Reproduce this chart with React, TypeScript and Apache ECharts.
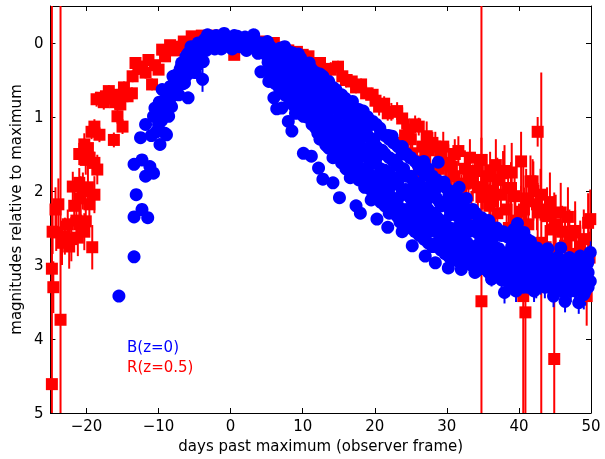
import React, { useEffect, useRef } from "react";
import * as echarts from "echarts";

// [days past maximum, magnitude relative to maximum, error]
const redPoints: number[][] = [
  [-24.8, 4.61, 5.2], [-23.6, 3.74, 4.5], [-24.6, 3.3, 0.35], [-24.8, 3.05, 0.3], [-24.7, 2.55, 0.3],
  [-24.2, 2.56, 0.25], [-24.3, 2.25, 0.3], [-23.9, 2.18, 0.35], [-23.4, 2.7, 0.3], [-23.0, 2.61, 0.25],
  [-22.6, 2.45, 0.2], [-22.4, 2.75, 0.3], [-22.1, 2.65, 0.3], [-21.9, 1.94, 0.2], [-21.7, 2.2, 0.25],
  [-21.4, 2.4, 0.3], [-21.2, 2.63, 0.25], [-21.0, 2.45, 0.2], [-21.0, 1.89, 0.2], [-20.8, 2.1, 0.3],
  [-20.5, 2.0, 0.25], [-20.3, 2.55, 0.25], [-20.1, 2.41, 0.2], [-19.8, 1.95, 0.3], [-19.6, 2.18, 0.3],
  [-19.2, 2.76, 0.3], [-18.9, 2.05, 0.25], [-21.0, 1.5, 0.15], [-20.3, 1.37, 0.15], [-20.1, 1.58, 0.2],
  [-19.6, 1.55, 0.15], [-19.8, 1.42, 0.1], [-18.9, 1.62, 0.15], [-18.5, 1.71, 0.2], [-18.9, 1.13, 0.1],
  [-18.2, 1.24, 0.1], [-19.3, 1.2, 0.1], [-18.6, 0.76, 0.1], [-18.0, 0.74, 0.08], [-17.6, 0.8, 0.1],
  [-17.3, 0.72, 0.08], [-16.9, 0.65, 0.08], [-16.5, 0.75, 0.1], [-16.0, 0.8, 0.1], [-15.7, 0.7, 0.08],
  [-15.3, 0.83, 0.08], [-15.7, 0.99, 0.1], [-15.0, 1.13, 0.1], [-16.2, 1.31, 0.1], [-14.8, 0.6, 0.08],
  [-14.3, 0.72, 0.08], [-13.7, 0.68, 0.08], [-13.6, 0.45, 0.08], [-13.2, 0.27, 0.08], [-12.8, 0.35, 0.08],
  [-12.3, 0.32, 0.08], [-11.8, 0.4, 0.08], [-11.4, 0.23, 0.06], [-10.9, 0.56, 0.08], [-10.5, 0.3, 0.06],
  [-10.0, 0.36, 0.06], [-9.5, 0.09, 0.05], [-9.1, 0.18, 0.05], [-8.4, 0.03, 0.05], [-7.8, 0.1, 0.05],
  [-7.3, 0.05, 0.05], [-6.5, -0.02, 0.05], [-5.9, 0.05, 0.05], [-5.4, -0.09, 0.05], [-4.8, -0.05, 0.05],
  [-4.0, -0.1, 0.05], [-3.0, -0.08, 0.05], [-2.0, -0.1, 0.05], [-1.0, -0.05, 0.05], [0.0, -0.07, 0.05],
  [0.5, 0.16, 0.05], [1.0, -0.02, 0.05], [2.0, 0.0, 0.05], [3.0, 0.02, 0.05], [4.0, -0.02, 0.05],
  [5.0, 0.05, 0.05], [6.0, 0.0, 0.05], [7.0, 0.06, 0.05], [8.0, 0.1, 0.05], [9.2, 0.12, 0.05],
  [10.0, 0.16, 0.06], [10.8, 0.18, 0.06], [11.5, 0.3, 0.06], [12.4, 0.27, 0.06], [13.2, 0.35, 0.08],
  [13.9, 0.36, 0.1], [14.9, 0.32, 0.08], [15.5, 0.45, 0.08], [16.0, 0.5, 0.1], [16.8, 0.52, 0.1],
  [17.4, 0.6, 0.08], [18.1, 0.56, 0.08], [18.8, 0.68, 0.1], [19.7, 0.7, 0.1], [20.1, 0.78, 0.1],
  [20.6, 0.86, 0.12], [21.3, 0.82, 0.1], [21.8, 0.95, 0.1], [22.3, 0.93, 0.12], [23.1, 0.92, 0.12],
  [23.8, 1.02, 0.15], [24.2, 1.25, 0.12], [24.7, 1.17, 0.15], [25.2, 1.49, 0.15], [25.6, 1.1, 0.12],
  [26.1, 1.13, 0.12], [26.6, 1.4, 0.15], [27.2, 1.26, 0.2], [27.0, 1.55, 0.15], [28.0, 1.35, 0.15],
  [28.4, 1.4, 0.2], [28.4, 1.84, 0.2], [26.1, 1.75, 0.2], [29.2, 1.55, 0.2], [29.8, 1.65, 0.2],
  [30.2, 1.62, 0.25], [30.7, 1.67, 0.2], [31.1, 1.5, 0.2], [31.6, 1.46, 0.2], [32.0, 2.03, 0.25],
  [32.5, 1.7, 0.25], [33.0, 1.85, 0.2], [33.6, 1.89, 0.25], [33.9, 1.73, 0.25], [34.3, 1.95, 0.3],
  [34.8, 1.58, 0.3], [34.8, 2.08, 0.3], [34.8, 3.49, 4.2], [35.5, 1.8, 0.3], [36.0, 1.72, 0.25],
  [36.4, 2.0, 0.3], [36.4, 2.14, 0.3], [37.0, 1.85, 0.3], [37.8, 1.76, 0.3], [38.0, 1.73, 0.35],
  [38.5, 1.96, 0.3], [38.9, 1.96, 0.35], [39.4, 2.07, 0.35], [40.3, 1.6, 0.4], [40.3, 2.28, 0.35],
  [40.7, 2.25, 0.3], [40.6, 3.42, 1.8], [40.9, 3.64, 1.6], [41.6, 1.87, 0.35], [41.9, 1.87, 0.3],
  [42.6, 1.2, 0.2], [42.5, 2.18, 0.35], [42.6, 2.29, 0.4], [43.1, 2.7, 2.3], [43.9, 2.34, 0.35],
  [43.9, 2.25, 0.3], [44.8, 2.52, 0.35], [44.9, 4.27, 2.25], [45.8, 2.29, 0.4], [46.4, 2.74, 0.4],
  [47.0, 2.6, 0.35], [47.8, 2.54, 0.4], [47.8, 2.56, 0.3], [48.5, 2.75, 0.35], [49.6, 2.43, 0.4],
  [49.9, 2.38, 0.4], [49.4, 3.42, 0.4], [48.2, 3.0, 0.3], [43.7, 2.76, 0.3], [39.7, 2.6, 0.3],
  [40.4, 2.88, 0.35], [37.0, 2.3, 0.3],
  [24.0, 1.35, 0.15], [25.0, 1.3, 0.15], [26.5, 1.6, 0.2], [27.5, 1.45, 0.2], [28.9, 1.7, 0.2],
  [29.5, 1.4, 0.2], [30.0, 1.9, 0.25], [31.0, 1.8, 0.25], [31.5, 2.1, 0.25], [32.5, 1.9, 0.25],
  [33.2, 1.55, 0.25], [35.0, 1.95, 0.3], [35.9, 2.2, 0.3], [36.8, 1.65, 0.35], [37.5, 2.05, 0.3],
  [38.3, 2.25, 0.35], [39.0, 1.75, 0.4], [39.5, 2.4, 0.35], [41.0, 2.1, 0.4], [41.3, 2.45, 0.35],
  [42.0, 2.0, 0.4], [43.0, 2.05, 0.35], [44.3, 2.15, 0.4], [45.1, 2.45, 0.4], [46.0, 2.55, 0.35],
  [46.8, 2.35, 0.4], [48.0, 2.85, 0.35], [49.0, 2.65, 0.4], [49.8, 2.9, 0.35], [47.3, 2.95, 0.4],
  [27.9, 1.85, 0.2], [30.5, 2.1, 0.25], [33.4, 2.3, 0.3], [36.0, 2.4, 0.3], [38.6, 2.5, 0.35],
];

const bluePoints: number[][] = [
  [-15.5, 3.42, 0.05], [-13.4, 2.89, 0.05], [-13.4, 2.35, 0.05], [-13.1, 2.05, 0.05], [-12.3, 2.25, 0.08],
  [-11.5, 2.36, 0.05], [-13.4, 1.64, 0.05], [-12.3, 1.58, 0.05], [-11.2, 1.67, 0.05], [-10.7, 1.76, 0.05],
  [-11.8, 1.8, 0.05], [-12.5, 1.28, 0.05], [-11.8, 1.1, 0.05], [-11.0, 1.25, 0.05], [-10.7, 0.99, 0.05],
  [-10.5, 0.88, 0.05], [-9.8, 1.37, 0.05], [-9.6, 1.05, 0.05], [-9.5, 0.63, 0.05], [-9.1, 1.22, 0.05],
  [-9.1, 0.77, 0.05], [-8.9, 1.24, 0.05], [-8.6, 0.99, 0.05], [-8.2, 0.86, 0.05], [-8.4, 0.59, 0.05],
  [-8.0, 0.45, 0.05], [-7.5, 0.43, 0.05], [-7.8, 0.7, 0.05], [-7.2, 0.7, 0.05], [-7.0, 0.35, 0.05],
  [-6.8, 0.27, 0.05], [-6.6, 0.55, 0.05], [-6.4, 0.54, 0.05], [-6.2, 0.18, 0.05], [-5.9, 0.74, 0.05],
  [-5.9, 0.14, 0.05], [-5.6, 0.4, 0.05], [-5.5, 0.05, 0.05], [-5.0, 0.27, 0.05], [-4.8, 0.1, 0.05],
  [-4.5, 0.0, 0.05], [-4.2, 0.2, 0.05], [-3.9, 0.49, 0.17], [-3.6, -0.05, 0.05], [-3.4, 0.1, 0.05],
  [-3.2, -0.11, 0.05], [-2.8, 0.03, 0.05], [-2.5, -0.08, 0.05], [-2.2, 0.08, 0.05], [-2.0, -0.1, 0.05],
  [-1.5, -0.05, 0.05], [-1.3, 0.08, 0.05], [-0.9, -0.13, 0.05], [-0.5, 0.0, 0.05], [0.0, -0.05, 0.05],
  [0.2, 0.08, 0.05], [0.5, -0.1, 0.05], [0.95, -0.09, 0.05], [1.2, 0.05, 0.05], [1.5, -0.02, 0.05],
  [2.0, -0.08, 0.05], [2.2, 0.1, 0.05], [2.6, 0.02, 0.05], [3.2, -0.11, 0.05], [3.4, 0.06, 0.05],
  [3.8, 0.14, 0.05], [4.2, 0.39, 0.05], [4.2, 0.0, 0.05], [4.8, 0.15, 0.05], [5.1, -0.02, 0.05],
  [5.2, 0.26, 0.05], [5.3, 0.52, 0.05], [5.8, 0.1, 0.05], [5.9, 0.36, 0.05], [6.0, 0.74, 0.05],
  [6.4, 0.89, 0.05], [6.5, 0.2, 0.05], [6.6, 0.47, 0.05], [6.9, 0.07, 0.05], [7.1, 0.88, 0.05],
  [7.2, 0.3, 0.05], [7.4, 0.58, 0.05], [7.8, 0.18, 0.05], [7.9, 0.42, 0.05], [8.0, 1.06, 0.05],
  [8.1, 0.66, 0.05], [8.5, 1.19, 0.05], [8.7, 0.14, 0.05], [8.6, 0.46, 0.05], [9.0, 0.95, 0.05],
  [9.1, 0.3, 0.05], [9.2, 0.72, 0.05], [9.6, 0.52, 0.05], [9.7, 0.2, 0.05], [9.9, 0.81, 0.05],
  [10.1, 0.99, 0.05], [10.1, 1.49, 0.05], [10.3, 0.38, 0.05], [10.4, 0.62, 0.05], [10.9, 0.27, 0.05],
  [11.0, 0.5, 0.05], [11.1, 0.88, 0.05], [11.2, 1.53, 0.05], [11.3, 1.1, 0.05], [11.6, 0.68, 0.05],
  [11.8, 0.4, 0.05], [12.0, 0.95, 0.05], [12.1, 1.22, 0.05], [12.2, 1.69, 0.05], [12.4, 0.6, 0.05],
  [12.8, 0.45, 0.05], [12.8, 1.84, 0.05], [12.9, 0.8, 0.05], [13.0, 1.05, 0.05], [13.2, 1.38, 0.05],
  [13.5, 0.62, 0.05], [13.6, 0.92, 0.05], [13.8, 1.2, 0.05], [14.2, 1.89, 0.05], [14.3, 0.75, 0.05],
  [14.4, 1.48, 0.05], [14.6, 0.63, 0.05], [14.7, 1.05, 0.05], [15.0, 1.3, 0.05], [15.1, 2.09, 0.05],
  [15.2, 0.85, 0.05], [15.4, 1.62, 0.05], [15.7, 1.12, 0.05], [15.9, 0.75, 0.05], [16.0, 1.58, 0.05],
  [16.2, 0.98, 0.05], [16.4, 1.35, 0.05], [16.6, 1.82, 0.05], [16.9, 0.79, 0.05], [17.0, 1.15, 0.05],
  [17.2, 1.5, 0.05], [17.4, 2.2, 0.05], [17.6, 0.95, 0.05], [17.8, 1.68, 0.05], [18.0, 2.3, 0.05],
  [18.1, 1.28, 0.05], [18.4, 0.92, 0.05], [18.6, 1.95, 0.05], [18.8, 1.12, 0.05], [19.0, 1.45, 0.05],
  [19.2, 1.78, 0.05], [19.5, 2.12, 0.05], [19.7, 1.06, 0.05], [19.9, 1.3, 0.05], [20.1, 1.62, 0.05],
  [20.3, 2.38, 0.05], [20.5, 1.9, 0.05], [20.7, 1.15, 0.05], [21.0, 1.45, 0.05], [21.2, 2.05, 0.05],
  [21.4, 1.72, 0.05], [21.8, 2.49, 0.05], [21.9, 1.25, 0.05], [22.1, 1.95, 0.05], [22.3, 2.25, 0.05],
  [22.4, 1.26, 0.05], [22.6, 1.58, 0.05], [22.9, 1.82, 0.05], [23.2, 2.1, 0.05], [23.5, 2.42, 0.05],
  [23.8, 1.4, 0.05], [23.8, 2.55, 0.05], [24.0, 1.7, 0.05], [24.3, 1.98, 0.05], [24.6, 2.28, 0.05],
  [24.9, 1.55, 0.05], [25.2, 2.74, 0.05], [25.3, 1.85, 0.05], [25.5, 2.15, 0.05], [25.8, 2.5, 0.05],
  [26.0, 1.65, 0.05], [26.3, 2.0, 0.05], [26.5, 2.35, 0.05], [26.8, 1.6, 0.05], [27.0, 1.78, 0.05],
  [27.0, 2.88, 0.05], [27.2, 2.12, 0.05], [27.5, 2.55, 0.05], [27.8, 1.92, 0.05], [28.1, 2.3, 0.05],
  [28.4, 1.98, 0.05], [28.4, 2.97, 0.05], [28.6, 2.7, 0.05], [28.8, 1.61, 0.05], [29.0, 2.15, 0.05],
  [29.3, 2.45, 0.05], [29.6, 1.88, 0.05], [29.9, 2.62, 0.05], [30.2, 3.04, 0.05], [30.3, 2.05, 0.05],
  [30.5, 2.32, 0.05], [30.8, 2.78, 0.05], [31.1, 2.15, 0.05], [31.4, 2.5, 0.05], [31.7, 1.95, 0.05],
  [32.0, 3.06, 0.05], [32.1, 2.35, 0.05], [32.4, 2.7, 0.05], [32.7, 2.1, 0.05], [33.0, 2.55, 0.05],
  [33.3, 2.88, 0.05], [33.6, 2.25, 0.05], [33.9, 3.1, 0.05], [34.1, 2.45, 0.05], [34.4, 2.72, 0.05],
  [34.8, 2.36, 0.05], [35.0, 2.95, 0.1], [35.2, 2.58, 0.05], [35.5, 2.8, 0.1], [35.8, 2.4, 0.05],
  [36.2, 3.19, 0.1], [36.3, 2.65, 0.05], [36.6, 2.92, 0.1], [36.9, 2.5, 0.05], [37.2, 2.78, 0.1],
  [37.5, 3.05, 0.15], [37.8, 2.55, 0.05], [38.0, 3.37, 0.15], [38.1, 2.85, 0.1], [38.4, 2.62, 0.05],
  [38.7, 3.1, 0.15], [39.0, 2.75, 0.1], [39.3, 2.52, 0.05], [39.6, 3.35, 0.15], [39.8, 2.44, 0.05],
  [39.9, 2.95, 0.1], [40.2, 2.7, 0.1], [40.5, 3.15, 0.15], [40.7, 2.56, 0.05], [41.0, 2.85, 0.1],
  [41.3, 3.05, 0.15], [41.6, 2.68, 0.1], [42.1, 3.35, 0.15], [42.3, 2.95, 0.1], [42.5, 2.77, 0.1],
  [42.9, 3.15, 0.15], [43.2, 2.85, 0.1], [43.6, 3.02, 0.15], [44.0, 2.78, 0.1], [44.3, 3.22, 0.15],
  [44.8, 3.42, 0.15], [45.0, 2.92, 0.1], [45.3, 3.1, 0.15], [45.8, 2.77, 0.1], [46.1, 3.0, 0.15],
  [46.4, 3.49, 0.15], [46.7, 3.18, 0.15], [47.0, 2.9, 0.1], [47.4, 3.28, 0.15], [47.8, 3.05, 0.15],
  [48.3, 3.51, 0.15], [48.5, 2.88, 0.1], [48.8, 3.15, 0.15], [49.2, 3.35, 0.2], [49.5, 2.98, 0.15],
  [49.9, 2.83, 0.15], [49.9, 3.22, 0.2],
  // rise
  [-10.3, 1.2, 0.05], [-10.2, 0.95, 0.05], [-10.0, 1.1, 0.05], [-9.9, 0.8, 0.05], [-9.3, 0.85, 0.05],
  [-9.0, 0.95, 0.05], [-8.8, 0.7, 0.05], [-8.5, 0.8, 0.05], [-8.2, 0.65, 0.05], [-7.9, 0.55, 0.05],
  [-7.6, 0.6, 0.05], [-7.3, 0.5, 0.05], [-7.0, 0.55, 0.05], [-6.8, 0.42, 0.05], [-6.5, 0.35, 0.05],
  [-6.2, 0.45, 0.05], [-6.0, 0.3, 0.05], [-5.7, 0.25, 0.05], [-5.3, 0.18, 0.05], [-5.2, 0.35, 0.05],
  [-4.9, 0.4, 0.05], [-4.6, 0.3, 0.05], [-4.0, 0.05, 0.05], [-3.8, 0.25, 0.05],
  // dense band
  [5.5, 0.05, 0.05], [5.5, 0.2, 0.05], [5.5, 0.4, 0.05], [6.2, 0.12, 0.05], [6.2, 0.3, 0.05],
  [6.2, 0.55, 0.05], [6.8, 0.15, 0.05], [6.8, 0.38, 0.05], [6.8, 0.62, 0.05], [7.5, 0.05, 0.05],
  [7.5, 0.25, 0.05], [7.5, 0.45, 0.05], [7.5, 0.7, 0.05], [8.2, 0.12, 0.05], [8.2, 0.3, 0.05],
  [8.2, 0.5, 0.05], [8.2, 0.8, 0.05], [8.8, 0.2, 0.05], [8.8, 0.38, 0.05], [8.8, 0.6, 0.05],
  [8.8, 0.85, 0.05], [9.4, 0.15, 0.05], [9.4, 0.4, 0.05], [9.4, 0.62, 0.05], [9.4, 0.9, 0.05],
  [10.0, 0.28, 0.05], [10.0, 0.48, 0.05], [10.0, 0.7, 0.05], [10.0, 0.88, 0.05], [10.6, 0.3, 0.05],
  [10.6, 0.52, 0.05], [10.6, 0.75, 0.05], [10.6, 1.0, 0.05], [11.2, 0.35, 0.05], [11.2, 0.6, 0.05],
  [11.2, 0.78, 0.05], [11.2, 0.98, 0.05], [11.8, 0.55, 0.05], [11.8, 0.75, 0.05], [11.8, 0.9, 0.05],
  [11.8, 1.15, 0.05], [12.4, 0.42, 0.05], [12.4, 0.72, 0.05], [12.4, 0.85, 0.05], [12.4, 1.05, 0.05],
  [12.4, 1.3, 0.05], [13.0, 0.5, 0.05], [13.0, 0.68, 0.05], [13.0, 0.9, 0.05], [13.0, 1.15, 0.05],
  [13.0, 1.28, 0.05], [13.6, 0.52, 0.05], [13.6, 0.75, 0.05], [13.6, 1.02, 0.05], [13.6, 1.3, 0.05],
  [13.6, 1.42, 0.05], [14.2, 0.6, 0.05], [14.2, 0.85, 0.05], [14.2, 1.1, 0.05], [14.2, 1.25, 0.05],
  [14.2, 1.55, 0.05], [14.8, 0.7, 0.05], [14.8, 0.9, 0.05], [14.8, 1.15, 0.05], [14.8, 1.4, 0.05],
  [14.8, 1.5, 0.05], [15.4, 0.7, 0.05], [15.4, 0.95, 0.05], [15.4, 1.2, 0.05], [15.4, 1.45, 0.05],
  [16.0, 0.8, 0.05], [16.0, 0.95, 0.05], [16.0, 1.22, 0.05], [16.0, 1.45, 0.05], [16.0, 1.7, 0.05],
  [16.6, 0.85, 0.05], [16.6, 1.05, 0.05], [16.6, 1.25, 0.05], [16.6, 1.55, 0.05], [16.6, 1.65, 0.05],
  [17.2, 0.88, 0.05], [17.2, 1.1, 0.05], [17.2, 1.35, 0.05], [17.2, 1.6, 0.05], [17.2, 1.8, 0.05],
  [17.8, 0.9, 0.05], [17.8, 1.15, 0.05], [17.8, 1.4, 0.05], [17.8, 1.55, 0.05], [17.8, 1.85, 0.05],
  [18.4, 1.0, 0.05], [18.4, 1.2, 0.05], [18.4, 1.42, 0.05], [18.4, 1.7, 0.05], [18.4, 1.85, 0.05],
  [19.0, 1.0, 0.05], [19.0, 1.25, 0.05], [19.0, 1.55, 0.05], [19.0, 1.72, 0.05], [19.0, 1.95, 0.05],
  [19.6, 1.1, 0.05], [19.6, 1.35, 0.05], [19.6, 1.6, 0.05], [19.6, 1.85, 0.05], [19.6, 2.0, 0.05],
  [20.2, 1.1, 0.05], [20.2, 1.4, 0.05], [20.2, 1.55, 0.05], [20.2, 1.8, 0.05], [20.2, 2.05, 0.05],
  [20.8, 1.2, 0.05], [20.8, 1.45, 0.05], [20.8, 1.7, 0.05], [20.8, 1.95, 0.05], [20.8, 2.15, 0.05],
  [21.4, 1.25, 0.05], [21.4, 1.5, 0.05], [21.4, 1.8, 0.05], [21.4, 1.95, 0.05], [21.4, 2.2, 0.05],
  [22.0, 1.3, 0.05], [22.0, 1.55, 0.05], [22.0, 1.75, 0.05], [22.0, 2.05, 0.05], [22.0, 2.3, 0.05],
  [22.6, 1.35, 0.05], [22.6, 1.6, 0.05], [22.6, 1.9, 0.05], [22.6, 2.1, 0.05], [22.6, 2.3, 0.05],
  [23.2, 1.4, 0.05], [23.2, 1.65, 0.05], [23.2, 1.9, 0.05], [23.2, 2.2, 0.05], [23.2, 2.35, 0.05],
  [23.8, 1.5, 0.05], [23.8, 1.75, 0.05], [23.8, 2.0, 0.05], [23.8, 2.25, 0.05], [23.8, 2.4, 0.05],
  [24.4, 1.5, 0.05], [24.4, 1.8, 0.05], [24.4, 2.05, 0.05], [24.4, 2.25, 0.05], [24.4, 2.45, 0.05],
  [25.0, 1.55, 0.05], [25.0, 1.8, 0.05], [25.0, 2.1, 0.05], [25.0, 2.35, 0.05], [25.0, 2.5, 0.05],
  [25.6, 1.6, 0.05], [25.6, 1.9, 0.05], [25.6, 2.05, 0.05], [25.6, 2.3, 0.05], [25.6, 2.55, 0.05],
  [26.2, 1.7, 0.05], [26.2, 1.9, 0.05], [26.2, 2.15, 0.05], [26.2, 2.4, 0.05], [26.2, 2.6, 0.05],
  [26.8, 1.75, 0.05], [26.8, 2.0, 0.05], [26.8, 2.25, 0.05], [26.8, 2.45, 0.05], [26.8, 2.65, 0.05],
  [27.4, 1.7, 0.05], [27.4, 1.95, 0.05], [27.4, 2.25, 0.05], [27.4, 2.4, 0.05], [27.4, 2.7, 0.05],
  [28.0, 1.8, 0.05], [28.0, 2.05, 0.05], [28.0, 2.3, 0.05], [28.0, 2.5, 0.05], [28.0, 2.75, 0.05],
  [28.6, 1.85, 0.05], [28.6, 2.1, 0.05], [28.6, 2.35, 0.05], [28.6, 2.55, 0.05], [28.6, 2.75, 0.05],
  [29.2, 1.9, 0.05], [29.2, 2.2, 0.05], [29.2, 2.4, 0.05], [29.2, 2.6, 0.05], [29.2, 2.8, 0.05],
  [29.8, 1.95, 0.05], [29.8, 2.15, 0.05], [29.8, 2.45, 0.05], [29.8, 2.7, 0.05], [29.8, 2.85, 0.05],
  [30.4, 2.0, 0.05], [30.4, 2.25, 0.05], [30.4, 2.5, 0.05], [30.4, 2.65, 0.05], [30.4, 2.9, 0.05],
  [31.0, 2.05, 0.05], [31.0, 2.3, 0.05], [31.0, 2.55, 0.05], [31.0, 2.75, 0.05], [31.0, 2.9, 0.05],
  [31.6, 2.1, 0.05], [31.6, 2.35, 0.05], [31.6, 2.6, 0.05], [31.6, 2.8, 0.05], [31.6, 2.95, 0.05],
  [32.2, 2.2, 0.05], [32.2, 2.45, 0.05], [32.2, 2.65, 0.05], [32.2, 2.85, 0.05], [32.8, 2.25, 0.05],
  [32.8, 2.45, 0.05], [32.8, 2.7, 0.05], [32.8, 2.95, 0.05], [33.4, 2.3, 0.05], [33.4, 2.5, 0.05],
  [33.4, 2.75, 0.05], [33.4, 2.9, 0.05], [33.4, 3.0, 0.05], [34.0, 2.3, 0.05], [34.0, 2.55, 0.05],
  [34.0, 2.8, 0.05], [34.0, 2.95, 0.05], [34.6, 2.4, 0.05], [34.6, 2.6, 0.05], [34.6, 2.85, 0.05],
  [34.6, 3.05, 0.1], [35.2, 2.45, 0.05], [35.2, 2.7, 0.05], [35.2, 2.9, 0.05], [35.2, 3.05, 0.1],
  [35.8, 2.5, 0.05], [35.8, 2.7, 0.05], [35.8, 2.95, 0.05], [35.8, 3.1, 0.1], [36.4, 2.5, 0.05],
  [36.4, 2.75, 0.05], [36.4, 2.95, 0.05], [36.4, 3.1, 0.1], [37.0, 2.55, 0.05], [37.0, 2.8, 0.05],
  [37.0, 3.0, 0.1], [37.0, 3.15, 0.1], [37.6, 2.6, 0.05], [37.6, 2.85, 0.05], [37.6, 3.0, 0.1],
  [37.6, 3.2, 0.1], [38.2, 2.6, 0.05], [38.2, 2.85, 0.05], [38.2, 3.05, 0.1], [38.2, 3.2, 0.1],
  [38.8, 2.6, 0.05], [38.8, 2.9, 0.05], [38.8, 3.05, 0.1], [38.8, 3.25, 0.1], [39.4, 2.65, 0.05],
  [39.4, 2.9, 0.05], [39.4, 3.1, 0.1], [39.4, 3.25, 0.1], [40.0, 2.6, 0.05], [40.0, 2.85, 0.05],
  [40.0, 3.05, 0.1], [40.0, 3.3, 0.15], [40.6, 2.7, 0.05], [40.6, 2.95, 0.1], [40.6, 3.15, 0.1],
  [40.6, 3.3, 0.15], [41.2, 2.75, 0.05], [41.2, 2.95, 0.1], [41.2, 3.15, 0.1], [41.2, 3.3, 0.15],
  [41.8, 2.8, 0.1], [41.8, 3.0, 0.1], [41.8, 3.2, 0.15], [42.4, 2.8, 0.1], [42.4, 3.05, 0.1],
  [42.4, 3.2, 0.15], [42.4, 3.3, 0.15], [43.0, 2.85, 0.1], [43.0, 3.0, 0.1], [43.0, 3.25, 0.15],
  [43.6, 2.85, 0.1], [43.6, 3.1, 0.1], [43.6, 3.3, 0.15], [44.2, 2.9, 0.1], [44.2, 3.05, 0.1],
  [44.2, 3.3, 0.15], [44.8, 2.95, 0.1], [44.8, 3.1, 0.1], [44.8, 3.25, 0.15], [45.4, 2.9, 0.1],
  [45.4, 3.1, 0.1], [45.4, 3.3, 0.15], [46.0, 2.95, 0.1], [46.0, 3.15, 0.15], [46.0, 3.35, 0.15],
  [46.6, 2.95, 0.1], [46.6, 3.1, 0.1], [46.6, 3.3, 0.15], [47.2, 3.0, 0.1], [47.2, 3.15, 0.15],
  [47.2, 3.35, 0.15], [47.8, 2.95, 0.1], [47.8, 3.2, 0.15], [47.8, 3.35, 0.15], [48.4, 3.0, 0.1],
  [48.4, 3.15, 0.15], [48.4, 3.3, 0.15], [49.0, 3.0, 0.1], [49.0, 3.2, 0.15], [49.0, 3.4, 0.2],
  [49.6, 2.95, 0.1], [49.6, 3.1, 0.15], [49.6, 3.3, 0.2],
];

const xTicks = [-20, -10, 0, 10, 20, 30, 40, 50];
const yTicks = [0, 1, 2, 3, 4, 5];
const legendLabels = ["B(z=0)", "R(z=0.5)"];

const FONT = "DejaVu Sans";
const BLUE = "#0000ff";
const RED = "#ff0000";

function errorSeries(data: number[][], color: string) {
  return {
    type: "custom",
    clip: true,
    data,
    encode: { x: 0, y: 1 },
    renderItem: (_params: any, api: any) => {
      const x = api.value(0);
      const y = api.value(1);
      const e = api.value(2);
      const p1 = api.coord([x, y - e]);
      const p2 = api.coord([x, y + e]);
      return {
        type: "line",
        shape: { x1: p1[0], y1: p1[1], x2: p2[0], y2: p2[1] },
        style: { stroke: color, lineWidth: 2 },
      };
    },
  };
}

export default function App() {
  const ref = useRef<HTMLDivElement>(null);
  useEffect(() => {
    if (!ref.current) return;
    const chart = echarts.init(ref.current, null, { renderer: "svg" });
    const fmt = (v: number) => (v < 0 ? "\u2212" + Math.abs(v) : String(v));
    const baseX = {
      type: "value",
      min: -25,
      max: 50,
      splitLine: { show: false },
      axisLine: { show: true, onZero: false, lineStyle: { color: "#000", width: 1 } },
      axisTick: { show: true, inside: true, length: 5, customValues: xTicks, lineStyle: { color: "#000" } },
    };
    const baseY = {
      type: "value",
      min: -0.5,
      max: 5,
      inverse: true,
      splitLine: { show: false },
      axisLine: { show: true, onZero: false, lineStyle: { color: "#000", width: 1 } },
      axisTick: { show: true, inside: true, length: 5, customValues: yTicks, lineStyle: { color: "#000" } },
    };
    chart.setOption({
      animation: false,
      grid: { left: 44, top: 6, width: 547, height: 407, containLabel: false },
      xAxis: [
        {
          ...baseX,
          position: "bottom",
          name: "days past maximum (observer frame)",
          nameLocation: "middle",
          nameGap: 25,
          nameTextStyle: { fontFamily: FONT, fontSize: 15, color: "#000" },
          axisLabel: { customValues: xTicks, formatter: fmt, fontFamily: FONT, fontSize: 15, color: "#000", margin: 5 },
        },
        { ...baseX, position: "top", axisLabel: { show: false } },
      ],
      yAxis: [
        {
          ...baseY,
          position: "left",
          name: "magnitudes relative to maximum",
          nameLocation: "middle",
          nameGap: 21,
          nameTextStyle: { fontFamily: FONT, fontSize: 15, color: "#000" },
          axisLabel: { customValues: yTicks, formatter: fmt, fontFamily: FONT, fontSize: 15, color: "#000", margin: 7 },
        },
        { ...baseY, position: "right", axisLabel: { show: false } },
      ],
      series: [
        errorSeries(redPoints, RED),
        {
          type: "scatter",
          data: redPoints.map((p) => [p[0], p[1]]),
          symbol: "rect",
          symbolSize: 12,
          itemStyle: { color: RED, opacity: 1 },
          clip: true,
        },
        errorSeries(bluePoints, BLUE),
        {
          type: "scatter",
          data: bluePoints.map((p) => [p[0], p[1]]),
          symbol: "circle",
          symbolSize: 13,
          itemStyle: { color: BLUE, opacity: 1 },
          clip: true,
        },
      ],
      graphic: [
        { type: "text", left: 127, top: 339, style: { text: legendLabels[0], fill: BLUE, font: `15px "${FONT}"` } },
        { type: "text", left: 127, top: 359, style: { text: legendLabels[1], fill: RED, font: `15px "${FONT}"` } },
      ],
    });
    return () => chart.dispose();
  }, []);
  return <div ref={ref} style={{ position: "fixed", left: 0, top: 0, width: 605, height: 459 }} />;
}
